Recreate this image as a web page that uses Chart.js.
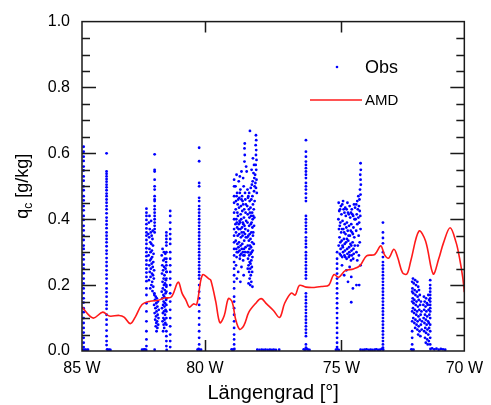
<!DOCTYPE html>
<html>
<head>
<meta charset="utf-8">
<script src="https://cdn.jsdelivr.net/npm/chart.js@4/dist/chart.umd.min.js"></script>
<style>
  html, body { margin: 0; padding: 0; background: #fff; }
</style>
</head>
<body>
<canvas id="qcChart" width="491" height="405"></canvas>
<script>
// axis setup (longitude as negative degrees east, i.e. west)
const xTickValues = [-84.5, -80, -75, -70.5];
const xTickLabels = ['85 W', '80 W', '75 W', '70 W'];
const yTickValues = [0, 0.2, 0.4, 0.6, 0.8, 1.0];

// AMD model curve
const amdLon = [-84.50, -84.10, -83.74, -83.50, -83.14, -82.96, -82.73, -82.55, -82.30, -82.01,
  -81.70, -81.50, -81.23, -80.98, -80.83, -80.69, -80.57, -80.42, -80.30, -80.09,
  -79.85, -79.78, -79.60, -79.45, -79.29, -79.14, -79.00, -78.88, -78.73, -78.57,
  -78.39, -78.16, -77.94, -77.74, -77.49, -77.26, -77.08, -76.84, -76.69, -76.54,
  -76.30, -76.00, -75.70, -75.46, -75.28, -75.10, -74.86, -74.56, -74.32, -74.08,
  -73.78, -73.56, -73.42, -73.27, -73.08, -72.94, -72.76, -72.60, -72.46, -72.16,
  -71.92, -71.64, -71.44, -71.26, -71.02, -70.80, -70.68, -70.56, -70.50];
const amdQc = [0.133, 0.100, 0.118, 0.106, 0.108, 0.103, 0.083, 0.103, 0.141, 0.151,
  0.154, 0.161, 0.164, 0.209, 0.174, 0.154, 0.133, 0.143, 0.141, 0.231,
  0.219, 0.214, 0.149, 0.086, 0.108, 0.159, 0.149, 0.098, 0.066, 0.078,
  0.118, 0.143, 0.159, 0.143, 0.123, 0.102, 0.145, 0.176, 0.170, 0.199,
  0.194, 0.193, 0.196, 0.200, 0.232, 0.224, 0.244, 0.249, 0.259, 0.289,
  0.293, 0.319, 0.292, 0.282, 0.309, 0.284, 0.237, 0.234, 0.274, 0.364,
  0.334, 0.234, 0.279, 0.329, 0.374, 0.329, 0.284, 0.224, 0.179];

// Obs: narrow vertical columns (one longitude each)
const obsColumnLon = [-84.44, -83.60, -82.14, -81.84, -81.41, -81.27, -80.21, -78.93, -76.30, -75.16, -73.48, -72.41, -71.75];
const obsColumnQc = [
  [0.62, 0.605, 0.59, 0.577, 0.56, 0.548, 0.53, 0.517, 0.50, 0.488, 0.47, 0.457, 0.44, 0.427, 0.41, 0.398, 0.38, 0.366, 0.35, 0.337, 0.32, 0.31, 0.292, 0.278, 0.262, 0.25, 0.236, 0.22, 0.205, 0.19, 0.176, 0.16, 0.147, 0.13, 0.118, 0.10, 0.085, 0.07, 0.056, 0.04, 0.025, 0.012],
  [0.60, 0.545, 0.538, 0.53, 0.522, 0.514, 0.505, 0.497, 0.488, 0.478, 0.47, 0.46, 0.45, 0.44, 0.43, 0.418, 0.405, 0.395, 0.384, 0.373, 0.36, 0.35, 0.34, 0.33, 0.318, 0.305, 0.295, 0.282, 0.27, 0.258, 0.245, 0.232, 0.22, 0.205, 0.19, 0.178, 0.165, 0.15, 0.14, 0.128, 0.11, 0.095, 0.08, 0.062, 0.045, 0.03, 0.018],
  [0.432, 0.42, 0.41, 0.398, 0.385, 0.372, 0.36, 0.35, 0.337, 0.325, 0.312, 0.30, 0.288, 0.275, 0.262, 0.25, 0.238, 0.225, 0.212, 0.19, 0.17, 0.145, 0.12, 0.09, 0.06, 0.035, 0.015],
  [0.597, 0.55, 0.545, 0.52, 0.50, 0.49, 0.47, 0.46, 0.455, 0.44, 0.43, 0.42, 0.41, 0.40, 0.39, 0.38, 0.37, 0.36],
  [0.36, 0.35, 0.34, 0.33, 0.32, 0.30, 0.28, 0.26, 0.24, 0.22, 0.20, 0.18, 0.16, 0.14, 0.12, 0.10, 0.08, 0.06, 0.045, 0.03, 0.015],
  [0.425, 0.41, 0.39, 0.37, 0.355, 0.34, 0.325, 0.30, 0.28, 0.26, 0.24, 0.22, 0.20, 0.175, 0.15, 0.125, 0.10, 0.075, 0.05, 0.03, 0.012],
  [0.617, 0.576, 0.51, 0.50, 0.465, 0.455, 0.44, 0.43, 0.42, 0.41, 0.40, 0.39, 0.38, 0.37, 0.36, 0.35, 0.34, 0.33, 0.32, 0.31, 0.30, 0.29, 0.28, 0.27, 0.26, 0.25, 0.24, 0.23, 0.22, 0.20, 0.18, 0.16, 0.14, 0.12, 0.10, 0.08, 0.06, 0.04, 0.02],
  [0.52, 0.50, 0.47, 0.45, 0.42, 0.40, 0.37, 0.35, 0.33, 0.31, 0.29, 0.27, 0.25, 0.23, 0.21, 0.19, 0.165, 0.15, 0.13, 0.11, 0.09, 0.07, 0.05, 0.035, 0.02],
  [0.64, 0.605, 0.59, 0.575, 0.565, 0.555, 0.545, 0.535, 0.525, 0.51, 0.50, 0.49, 0.478, 0.465, 0.455, 0.41, 0.40, 0.39, 0.38, 0.37, 0.36, 0.345, 0.335, 0.325, 0.315, 0.30, 0.29, 0.28, 0.27, 0.26, 0.25, 0.24, 0.23, 0.22, 0.175, 0.165, 0.155, 0.145, 0.135, 0.125, 0.115, 0.105, 0.095, 0.085, 0.075, 0.065, 0.055, 0.045, 0.02, 0.01],
  [0.30, 0.28, 0.265, 0.25, 0.235, 0.22, 0.205, 0.19, 0.175, 0.16, 0.145, 0.13, 0.115, 0.10, 0.085, 0.07, 0.055, 0.04, 0.025, 0.012],
  [0.39, 0.36, 0.343, 0.327, 0.30, 0.285, 0.27, 0.26, 0.25, 0.24, 0.23, 0.22, 0.21, 0.20, 0.19, 0.18, 0.17, 0.16, 0.15, 0.14, 0.13, 0.12, 0.11, 0.10, 0.09, 0.08, 0.07, 0.06, 0.05, 0.04, 0.03, 0.02, 0.01],
  [0.21, 0.18, 0.15, 0.12, 0.09, 0.06, 0.04, 0.02],
  [0.215, 0.20, 0.19, 0.18, 0.17, 0.16, 0.15, 0.14, 0.13, 0.12, 0.10, 0.08, 0.06, 0.04, 0.02]
];

// Obs: wider clusters [lon, qc]
const obsNear82W = [
  [-82.05, 0.39], [-82.02, 0.37], [-81.98, 0.36], [-81.95, 0.35], [-82.04, 0.345], [-81.92, 0.34], [-82.00, 0.33], [-81.96, 0.325],
  [-81.90, 0.32], [-82.03, 0.31], [-81.94, 0.305], [-81.99, 0.30], [-81.88, 0.295], [-82.06, 0.29], [-81.93, 0.285], [-81.97, 0.28],
  [-82.01, 0.275], [-81.89, 0.27], [-81.95, 0.265], [-82.04, 0.26], [-81.91, 0.255], [-81.98, 0.25], [-81.86, 0.245], [-82.02, 0.24],
  [-81.94, 0.235], [-81.90, 0.23], [-81.99, 0.225], [-81.87, 0.22], [-82.05, 0.215], [-81.93, 0.21], [-81.96, 0.20], [-81.89, 0.195],
  [-82.00, 0.19], [-81.92, 0.182], [-81.85, 0.175], [-82.03, 0.41], [-81.97, 0.395], [-82.07, 0.355], [-81.91, 0.365],
  [-81.85, 0.17], [-81.80, 0.165], [-81.76, 0.16], [-81.83, 0.155], [-81.72, 0.15], [-81.78, 0.145], [-81.86, 0.14], [-81.74, 0.135],
  [-81.81, 0.13], [-81.69, 0.125], [-81.77, 0.12], [-81.84, 0.115], [-81.73, 0.11], [-81.79, 0.105], [-81.70, 0.10], [-81.82, 0.095],
  [-81.75, 0.09], [-81.78, 0.085], [-81.71, 0.08], [-81.80, 0.075], [-81.74, 0.07], [-81.77, 0.06]
];
const obsNear81W = [
  [-81.55, 0.31], [-81.50, 0.30], [-81.45, 0.295], [-81.58, 0.29], [-81.47, 0.28], [-81.52, 0.275], [-81.42, 0.27], [-81.56, 0.26],
  [-81.49, 0.255], [-81.44, 0.25], [-81.53, 0.245], [-81.40, 0.24], [-81.57, 0.235], [-81.48, 0.23], [-81.51, 0.22], [-81.43, 0.215],
  [-81.55, 0.21], [-81.46, 0.205], [-81.50, 0.20], [-81.41, 0.195], [-81.54, 0.19], [-81.47, 0.185], [-81.58, 0.18], [-81.44, 0.175],
  [-81.52, 0.17], [-81.49, 0.165], [-81.56, 0.16], [-81.42, 0.155], [-81.51, 0.15], [-81.46, 0.145], [-81.53, 0.14], [-81.48, 0.135],
  [-81.57, 0.13], [-81.44, 0.125], [-81.50, 0.12], [-81.54, 0.115], [-81.46, 0.11], [-81.52, 0.10], [-81.48, 0.095], [-81.55, 0.09],
  [-81.45, 0.085], [-81.51, 0.08], [-81.49, 0.07], [-81.53, 0.06]
];
const obsNear78W = [
  [-78.88, 0.50], [-78.82, 0.48], [-78.76, 0.515], [-78.70, 0.49], [-78.64, 0.47], [-78.58, 0.50], [-78.52, 0.46], [-78.86, 0.455],
  [-78.80, 0.445], [-78.74, 0.465], [-78.68, 0.44], [-78.62, 0.455], [-78.56, 0.43], [-78.50, 0.445], [-78.87, 0.43], [-78.81, 0.42],
  [-78.75, 0.435], [-78.69, 0.415], [-78.63, 0.425], [-78.57, 0.405], [-78.51, 0.42], [-78.85, 0.40], [-78.79, 0.41], [-78.73, 0.395],
  [-78.67, 0.40], [-78.61, 0.39], [-78.55, 0.38], [-78.49, 0.395], [-78.88, 0.385], [-78.82, 0.375], [-78.76, 0.385], [-78.70, 0.37],
  [-78.64, 0.375], [-78.58, 0.36], [-78.52, 0.37], [-78.86, 0.36], [-78.80, 0.35], [-78.74, 0.355], [-78.68, 0.345], [-78.62, 0.35],
  [-78.56, 0.335], [-78.50, 0.345], [-78.87, 0.335], [-78.81, 0.325], [-78.75, 0.33], [-78.69, 0.32], [-78.63, 0.325], [-78.57, 0.31],
  [-78.51, 0.315], [-78.85, 0.31], [-78.79, 0.30], [-78.73, 0.305], [-78.67, 0.295], [-78.61, 0.30], [-78.55, 0.29], [-78.84, 0.285],
  [-78.72, 0.28], [-78.60, 0.275], [-78.86, 0.26], [-78.78, 0.24], [-78.66, 0.255], [-78.58, 0.23], [-78.83, 0.22], [-78.70, 0.21],
  [-78.84, 0.47], [-78.78, 0.46], [-78.72, 0.48], [-78.66, 0.46], [-78.60, 0.445], [-78.53, 0.48], [-78.83, 0.39], [-78.77, 0.37],
  [-78.71, 0.39], [-78.65, 0.36], [-78.59, 0.385], [-78.53, 0.355], [-78.83, 0.30], [-78.77, 0.315], [-78.71, 0.29], [-78.65, 0.31],
  [-78.59, 0.29], [-78.53, 0.30],
  [-78.84, 0.535], [-78.72, 0.53], [-78.66, 0.545], [-78.60, 0.525], [-78.55, 0.575], [-78.54, 0.595], [-78.55, 0.615], [-78.54, 0.63],
  [-78.49, 0.56], [-78.47, 0.545],
  [-78.44, 0.49], [-78.38, 0.48], [-78.32, 0.495], [-78.26, 0.47], [-78.20, 0.485], [-78.42, 0.465], [-78.36, 0.455], [-78.30, 0.46],
  [-78.24, 0.445], [-78.18, 0.455], [-78.45, 0.44], [-78.39, 0.43], [-78.33, 0.435], [-78.27, 0.42], [-78.21, 0.43], [-78.43, 0.415],
  [-78.37, 0.405], [-78.31, 0.41], [-78.25, 0.40], [-78.19, 0.405], [-78.44, 0.39], [-78.38, 0.38], [-78.32, 0.385], [-78.26, 0.375],
  [-78.20, 0.38], [-78.42, 0.365], [-78.36, 0.355], [-78.30, 0.36], [-78.24, 0.35], [-78.45, 0.345], [-78.39, 0.335], [-78.33, 0.34],
  [-78.27, 0.33], [-78.21, 0.325], [-78.43, 0.32], [-78.37, 0.31], [-78.31, 0.315], [-78.25, 0.305], [-78.44, 0.30], [-78.38, 0.29],
  [-78.32, 0.295], [-78.26, 0.285], [-78.42, 0.28], [-78.36, 0.27], [-78.30, 0.275], [-78.40, 0.26], [-78.34, 0.25], [-78.28, 0.255],
  [-78.38, 0.24], [-78.32, 0.23], [-78.36, 0.22], [-78.30, 0.21], [-78.34, 0.20], [-78.26, 0.195], [-78.40, 0.205],
  [-78.41, 0.47], [-78.35, 0.42], [-78.29, 0.39], [-78.23, 0.41], [-78.41, 0.35], [-78.35, 0.32], [-78.29, 0.30], [-78.23, 0.36],
  [-78.41, 0.30], [-78.33, 0.265], [-78.27, 0.24], [-78.43, 0.25],
  [-78.35, 0.668], [-78.13, 0.655], [-78.12, 0.64], [-78.14, 0.625], [-78.12, 0.61], [-78.13, 0.595], [-78.11, 0.58], [-78.14, 0.565],
  [-78.12, 0.55], [-78.16, 0.535], [-78.11, 0.52], [-78.15, 0.51], [-78.19, 0.525], [-78.22, 0.54], [-78.25, 0.515], [-78.28, 0.505],
  [-78.18, 0.50], [-78.13, 0.495], [-78.10, 0.48], [-78.24, 0.585], [-78.20, 0.565], [-78.29, 0.55]
];
const obsNear75W = [
  [-75.10, 0.45], [-75.02, 0.44], [-74.94, 0.455], [-74.86, 0.435], [-74.78, 0.45], [-74.70, 0.44], [-74.62, 0.43], [-74.54, 0.445],
  [-75.08, 0.425], [-75.00, 0.415], [-74.92, 0.43], [-74.84, 0.41], [-74.76, 0.42], [-74.68, 0.405], [-74.60, 0.415], [-74.52, 0.40],
  [-75.11, 0.40], [-75.04, 0.39], [-74.96, 0.395], [-74.88, 0.385], [-74.80, 0.39], [-74.72, 0.38], [-74.64, 0.385], [-74.56, 0.375],
  [-75.09, 0.37], [-75.01, 0.36], [-74.93, 0.37], [-74.85, 0.355], [-74.77, 0.365], [-74.69, 0.35], [-74.61, 0.36], [-74.53, 0.345],
  [-75.07, 0.345], [-74.99, 0.335], [-74.91, 0.34], [-74.83, 0.33], [-74.75, 0.335], [-74.67, 0.325], [-74.59, 0.33], [-74.51, 0.32],
  [-75.10, 0.32], [-75.03, 0.31], [-74.95, 0.315], [-74.87, 0.305], [-74.79, 0.31], [-74.71, 0.30], [-74.63, 0.305], [-74.55, 0.295],
  [-75.06, 0.295], [-74.97, 0.285], [-74.89, 0.29], [-74.81, 0.28], [-74.73, 0.285], [-74.65, 0.275], [-74.57, 0.28],
  [-75.05, 0.43], [-74.97, 0.445], [-74.89, 0.42], [-74.81, 0.43], [-74.73, 0.415], [-74.65, 0.42], [-74.57, 0.41], [-75.06, 0.38],
  [-74.98, 0.37], [-74.90, 0.36], [-74.82, 0.375], [-74.74, 0.35], [-74.66, 0.365], [-74.58, 0.355], [-75.04, 0.33], [-74.96, 0.32],
  [-74.88, 0.325], [-74.80, 0.34], [-74.72, 0.315], [-74.64, 0.32], [-74.56, 0.31], [-75.02, 0.29], [-74.94, 0.30], [-74.86, 0.285],
  [-74.78, 0.295], [-74.70, 0.29], [-74.62, 0.29],
  [-74.98, 0.26], [-74.82, 0.245], [-74.70, 0.255], [-74.64, 0.225], [-74.58, 0.19], [-74.64, 0.148], [-74.45, 0.20], [-74.35, 0.20],
  [-74.90, 0.23], [-74.76, 0.21],
  [-74.30, 0.57], [-74.29, 0.55], [-74.31, 0.535], [-74.30, 0.52], [-74.29, 0.505], [-74.32, 0.49], [-74.30, 0.475], [-74.34, 0.46],
  [-74.38, 0.47], [-74.42, 0.455], [-74.36, 0.44], [-74.46, 0.445], [-74.40, 0.43], [-74.33, 0.425], [-74.50, 0.435], [-74.44, 0.415],
  [-74.38, 0.405], [-74.31, 0.41], [-74.48, 0.40], [-74.35, 0.39], [-74.42, 0.385], [-74.30, 0.37], [-74.46, 0.365], [-74.37, 0.35],
  [-74.33, 0.33], [-74.40, 0.32], [-74.45, 0.30], [-74.36, 0.29], [-74.42, 0.275], [-74.30, 0.26]
];
const obsNear72W = [
  [-72.38, 0.22], [-72.30, 0.215], [-72.22, 0.21], [-72.35, 0.205], [-72.27, 0.20], [-72.19, 0.195], [-72.40, 0.19], [-72.32, 0.185],
  [-72.24, 0.18], [-72.16, 0.185], [-72.37, 0.175], [-72.29, 0.17], [-72.21, 0.165], [-72.13, 0.17], [-72.39, 0.16], [-72.33, 0.155],
  [-72.25, 0.15], [-72.17, 0.155], [-72.09, 0.15], [-72.36, 0.145], [-72.28, 0.14], [-72.20, 0.135], [-72.12, 0.14], [-72.38, 0.13],
  [-72.31, 0.125], [-72.23, 0.12], [-72.15, 0.125], [-72.07, 0.12], [-72.34, 0.115], [-72.26, 0.11], [-72.18, 0.105], [-72.10, 0.11],
  [-72.37, 0.10], [-72.29, 0.095], [-72.21, 0.09], [-72.13, 0.095], [-72.05, 0.09], [-72.33, 0.085], [-72.25, 0.08], [-72.17, 0.075],
  [-72.09, 0.08], [-72.30, 0.07], [-72.22, 0.065], [-72.14, 0.06], [-72.06, 0.065], [-72.19, 0.05], [-72.11, 0.045],
  [-71.98, 0.165], [-71.90, 0.16], [-71.82, 0.17], [-71.95, 0.15], [-71.87, 0.145], [-71.79, 0.155], [-72.00, 0.14], [-71.92, 0.135],
  [-71.84, 0.14], [-71.97, 0.125], [-71.89, 0.12], [-71.81, 0.125], [-71.94, 0.11], [-71.86, 0.105], [-71.78, 0.11], [-71.99, 0.10],
  [-71.91, 0.095], [-71.83, 0.09], [-71.96, 0.085], [-71.88, 0.08], [-71.80, 0.085], [-71.93, 0.07], [-71.85, 0.065], [-71.79, 0.07],
  [-71.97, 0.06], [-71.90, 0.055], [-71.82, 0.05], [-71.94, 0.04], [-71.86, 0.035], [-71.80, 0.03], [-71.91, 0.025], [-71.84, 0.02]
];
// Obs: readings at (nearly) zero between the clouds
const obsSurfaceLon = [-84.46, -84.42, -84.38, -84.33, -84.28, -83.58, -83.55, -83.50, -83.46,
  -82.30, -82.26, -82.22, -82.18, -82.15, -81.84, -81.40, -80.27, -80.23, -80.19, -80.14,
  -79.02, -78.98, -78.95, -78.92, -78.08, -78.00, -77.92, -77.85, -77.78, -77.70, -77.62, -77.55,
  -77.48, -77.40, -77.28, -76.38, -76.33, -76.27, -76.22, -76.17, -75.20, -75.15, -75.10,
  -74.30, -74.22, -74.15, -74.08, -74.00, -73.93, -73.86, -73.78, -73.72, -73.65, -73.58, -73.52, -73.47,
  -72.44, -72.40, -72.36, -71.74, -71.68, -71.60, -71.52, -71.44, -71.36, -71.28, -71.20];
const obsSurfaceQc = [0.004, 0.003, 0.004, 0.003, 0.004, 0.005, 0.003, 0.004, 0.003,
  0.004, 0.003, 0.005, 0.004, 0.003, 0.004, 0.003, 0.004, 0.006, 0.003, 0.004,
  0.005, 0.003, 0.004, 0.006, 0.004, 0.003, 0.004, 0.003, 0.004, 0.003, 0.004, 0.003,
  0.004, 0.003, 0.004, 0.005, 0.003, 0.006, 0.004, 0.003, 0.004, 0.005, 0.003,
  0.004, 0.003, 0.004, 0.005, 0.003, 0.004, 0.003, 0.004, 0.005, 0.003, 0.004, 0.006, 0.004,
  0.005, 0.003, 0.004, 0.006, 0.008, 0.005, 0.007, 0.004, 0.006, 0.005, 0.004];

const fontFamily = '"Liberation Sans", Arial, Helvetica, sans-serif';

const obsPoints = [];
obsColumnLon.forEach((lon, i) => obsColumnQc[i].forEach(q => obsPoints.push({x: lon, y: q})));
[obsNear82W, obsNear81W, obsNear78W, obsNear75W, obsNear72W].forEach(group =>
  group.forEach(([lon, q]) => obsPoints.push({x: lon, y: q})));
obsSurfaceLon.forEach((lon, i) => obsPoints.push({x: lon, y: obsSurfaceQc[i]}));

const amdPoints = amdLon.map((lon, i) => ({x: lon, y: amdQc[i]}));

// frame with inward ticks, axis titles and the in-plot legend
const framePlugin = {
  id: 'framePlugin',
  afterDatasetsDraw(chart) {
    const {ctx, chartArea: a, scales: {x, y}} = chart;
    ctx.save();
    ctx.strokeStyle = '#1a1a1a';
    ctx.lineWidth = 1.5;
    ctx.strokeRect(a.left, a.top, a.right - a.left, a.bottom - a.top);
    ctx.beginPath();
    for (let k = 1; k < 20; k++) {
      const py = Math.round(y.getPixelForValue(k * 0.05)) + 0.5;
      const len = k % 4 === 0 ? 14 : 8;
      ctx.moveTo(a.left, py); ctx.lineTo(a.left + len, py);
      ctx.moveTo(a.right - len, py); ctx.lineTo(a.right, py);
    }
    xTickValues.slice(1, -1).forEach(v => {
      const px = Math.round(x.getPixelForValue(v)) + 0.5;
      ctx.moveTo(px, a.top); ctx.lineTo(px, a.top + 11);
      ctx.moveTo(px, a.bottom); ctx.lineTo(px, a.bottom - 11);
    });
    ctx.stroke();
    ctx.restore();
  },
  afterDraw(chart) {
    const {ctx, chartArea: a} = chart;
    ctx.save();
    ctx.fillStyle = '#000';
    ctx.textAlign = 'center';
    ctx.textBaseline = 'alphabetic';
    ctx.font = '20px ' + fontFamily;
    ctx.fillText('Längengrad [°]', (a.left + a.right) / 2, 399);

    // y title with subscript
    ctx.translate(28, (a.top + a.bottom) / 2);
    ctx.rotate(-Math.PI / 2);
    ctx.textAlign = 'left';
    ctx.font = '18px ' + fontFamily;
    const wq = ctx.measureText('q').width;
    const wr = ctx.measureText(' [g/kg]').width;
    ctx.font = '12px ' + fontFamily;
    const wc = ctx.measureText('c').width;
    let x0 = -(wq + wc + wr) / 2;
    ctx.font = '18px ' + fontFamily;
    ctx.fillText('q', x0, 0);
    ctx.font = '12px ' + fontFamily;
    ctx.fillText('c', x0 + wq, 4);
    ctx.font = '18px ' + fontFamily;
    ctx.fillText(' [g/kg]', x0 + wq + wc, 0);
    ctx.restore();

    // legend
    ctx.save();
    ctx.fillStyle = '#0000ff';
    ctx.beginPath();
    ctx.arc(337, 67, 1.3, 0, Math.PI * 2);
    ctx.fill();
    ctx.strokeStyle = '#ff1a1a';
    ctx.lineWidth = 1.5;
    ctx.beginPath();
    ctx.moveTo(310, 100); ctx.lineTo(362, 100);
    ctx.stroke();
    ctx.fillStyle = '#000';
    ctx.textAlign = 'left';
    ctx.textBaseline = 'alphabetic';
    ctx.font = '18px ' + fontFamily;
    ctx.fillText('Obs', 365, 73);
    ctx.font = '15px ' + fontFamily;
    ctx.fillText('AMD', 365, 105);
    ctx.restore();
  }
};

new Chart(document.getElementById('qcChart'), {
  type: 'scatter',
  data: {
    datasets: [
      {
        label: 'AMD',
        data: amdPoints,
        showLine: true,
        borderColor: '#ff1a1a',
        borderWidth: 1.6,
        tension: 0.35,
        pointRadius: 0
      },
      {
        label: 'Obs',
        data: obsPoints,
        backgroundColor: '#0000ff',
        borderWidth: 0,
        pointRadius: 1.4
      }
    ]
  },
  options: {
    responsive: false,
    animation: false,
    layout: { padding: { left: 0, right: 20, top: 19, bottom: 0 } },
    plugins: {
      legend: { display: false },
      tooltip: { enabled: false }
    },
    scales: {
      x: {
        type: 'linear',
        min: -84.5,
        max: -70.5,
        grid: { display: false, drawTicks: false },
        border: { display: false },
        afterFit: s => { s.height = 54; },
        afterBuildTicks: s => { s.ticks = xTickValues.map(v => ({value: v})); },
        ticks: {
          autoSkip: false,
          maxRotation: 0,
          padding: 8,
          color: '#000',
          font: { family: fontFamily, size: 16 },
          callback: (v, i) => xTickLabels[i]
        }
      },
      y: {
        min: 0,
        max: 1,
        grid: { display: false, drawTicks: false },
        border: { display: false },
        afterFit: s => { s.width = 82; },
        afterBuildTicks: s => { s.ticks = yTickValues.map(v => ({value: v})); },
        ticks: {
          padding: 12,
          color: '#000',
          font: { family: fontFamily, size: 16 },
          callback: v => v.toFixed(1)
        }
      }
    }
  },
  plugins: [framePlugin]
});
</script>
</body>
</html>
